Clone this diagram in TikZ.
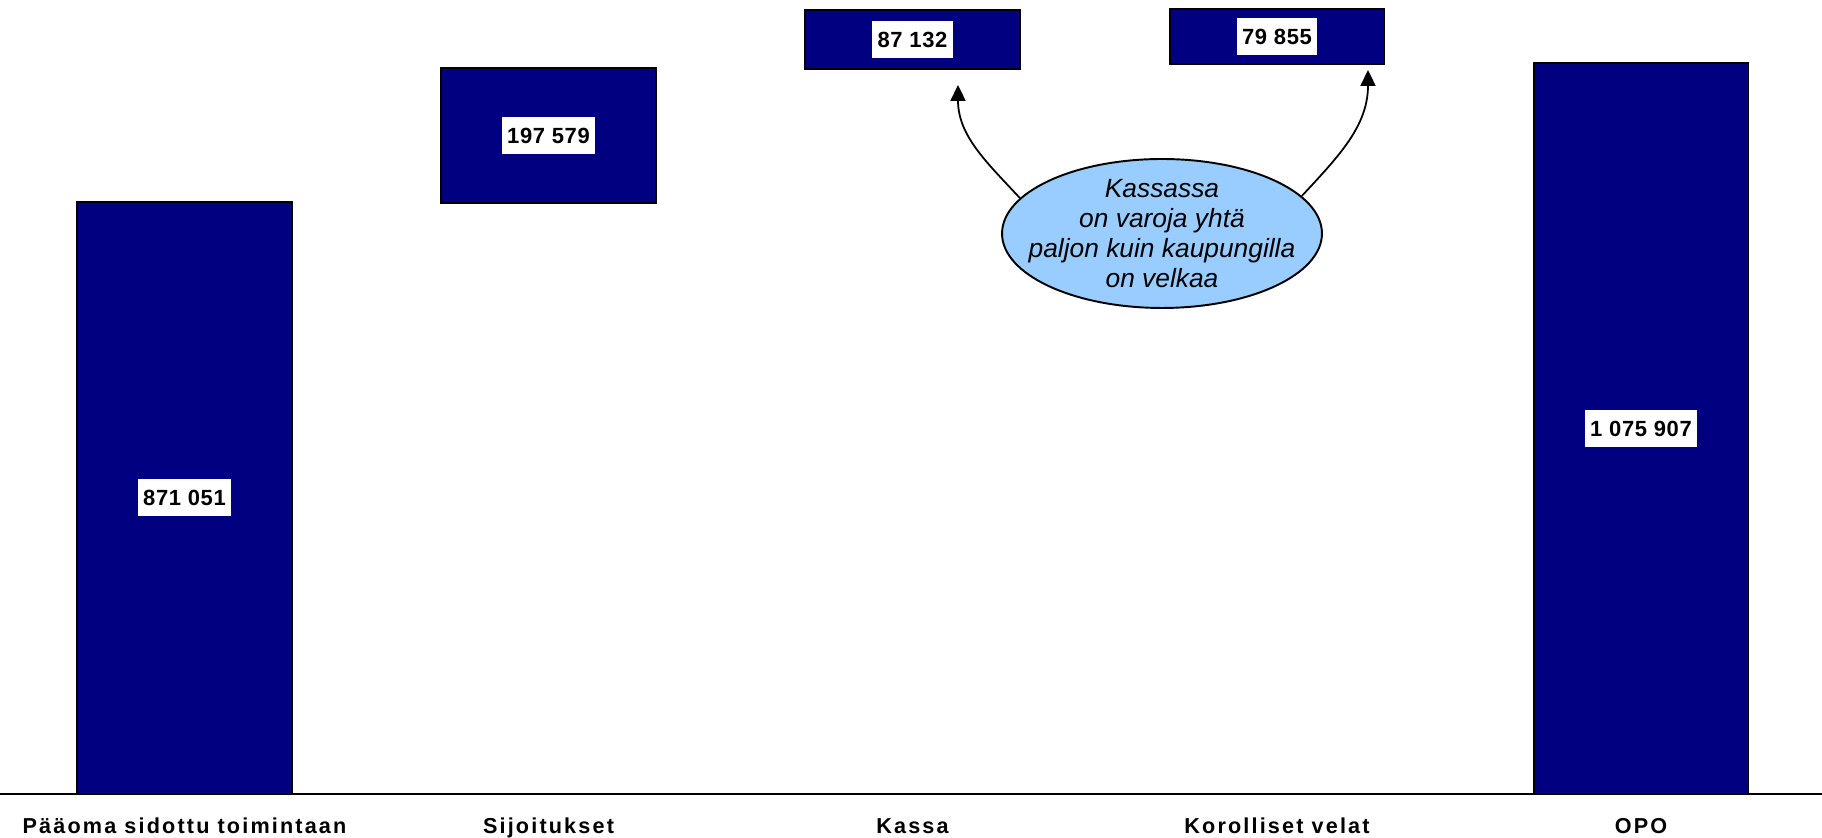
\documentclass[tikz,border=0pt]{standalone}
\usepackage{fontspec}
\usepackage{xcolor}
\usetikzlibrary{arrows.meta,shapes.geometric}

\setmainfont{Liberation Sans}
\newfontfamily\valfont[LetterSpace=3]{Liberation Sans}
\newfontfamily\lblfont[LetterSpace=10]{Liberation Sans}

\definecolor{navy}{RGB}{0,0,128}
\definecolor{lightblue}{RGB}{153,204,255}

\begin{document}
\begin{tikzpicture}[x=0.02cm,y=0.02cm,
  bar/.style={draw=black,fill=navy,line width=1.1pt,minimum width=4.3cm,inner sep=0pt},
  val/.style={fill=white,inner xsep=3pt,inner ysep=0pt,minimum height=0.74cm,font=\valfont\fontsize{12.5}{14}\selectfont\bfseries},
  lbl/.style={anchor=base,font=\lblfont\fontsize{12.3}{14}\selectfont\bfseries},
  arr/.style={-{Triangle[length=9pt,width=8.5pt]},line width=1pt}]

\useasboundingbox (0,-44) rectangle (1822,794);

% bars
\node[bar,minimum height=11.84cm] (B1) at (184.5,296) {};
\node[bar,minimum height=2.7cm] (B2) at (548.5,658.5) {};
\node[bar,minimum height=1.18cm] (B3) at (912.5,754.5) {};
\node[bar,minimum height=1.1cm] (B4) at (1277,757.5) {};
\node[bar,minimum height=14.62cm] (B5) at (1641,365.5) {};

% values
\node[val] (V1) at (B1) {871 051};
\node[val] (V2) at (B2) {197 579};
\node[val] (V3) at (B3) {87 132};
\node[val] (V4) at (B4) {79 855};
\node[val] (V5) at (B5) {1 075 907};

% axis
\draw[line width=1.1pt] (0,0) -- (1822,0);

% labels
\node[lbl] (L1) at (184.5,-40) {Pääoma sidottu toimintaan};
\node[lbl] (L2) at (548.5,-40) {Sijoitukset};
\node[lbl] (L3) at (912.5,-40) {Kassa};
\node[lbl] (L4) at (1277,-40) {Korolliset velat};
\node[lbl] (L5) at (1641,-40) {OPO};

% note
\node[ellipse,draw=black,fill=lightblue,line width=1.1pt,minimum width=6.4cm,minimum height=2.98cm,inner xsep=-0.6cm,inner ysep=-0.4cm,align=center,font=\fontsize{15}{17}\selectfont\itshape] (E1) at (1162,560.5) {Kassassa\\on varoja yhtä\\paljon kuin kaupungilla\\on velkaa};

\coordinate (T3) at (958,709);
\coordinate (T4) at (1368,724);

\draw[arr] (E1.166) to[out=133,in=-90] (T3);
\draw[arr] (E1.15) to[out=47,in=-90] (T4);

\end{tikzpicture}
\end{document}
